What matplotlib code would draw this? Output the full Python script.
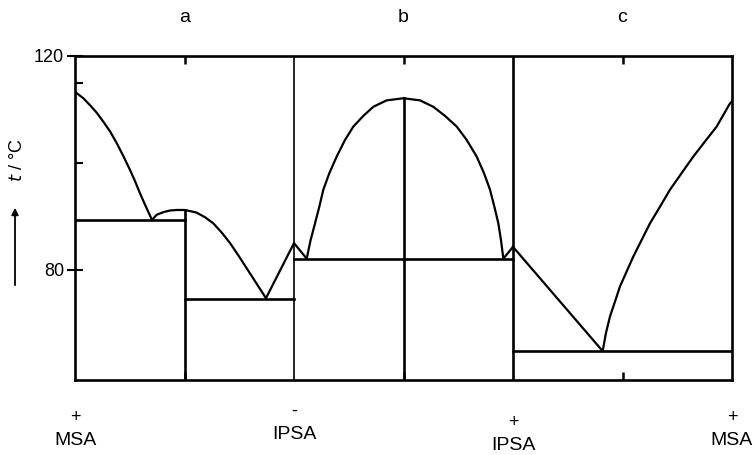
import matplotlib
matplotlib.use("Agg")
import matplotlib.pyplot as plt
from matplotlib.ticker import FixedLocator

plt.rcParams['font.family'] = ['Liberation Sans', 'DejaVu Sans']

# liquidus curves, section a (MSA side)
a1_x = [0.0, 0.076, 0.137, 0.198, 0.259, 0.320, 0.381, 0.441, 0.502, 0.548, 0.594, 0.648, 0.703]
a1_t = [113.3, 112.1, 110.8, 109.4, 107.7, 105.9, 103.7, 101.3, 98.7, 96.6, 94.3, 91.8, 89.35]
a2_x = [0.703, 0.746, 0.807, 0.868, 0.928, 1.0, 1.050, 1.111, 1.187, 1.263, 1.339, 1.416,
        1.492, 1.568, 1.659, 1.744, 2.0, 2.116]
a2_t = [89.35, 90.3, 90.8, 91.1, 91.2, 91.2, 91.0, 90.7, 89.85, 88.7, 87.0, 85.0,
        82.7, 80.3, 77.4, 74.7, 85.0, 82.1]
# section b (dome)
b_x = [2.116, 2.152, 2.192, 2.231, 2.268, 2.323, 2.390, 2.466, 2.542, 2.633, 2.724, 2.846, 3.0,
       3.151, 3.272, 3.379, 3.486, 3.577, 3.668, 3.735, 3.790, 3.830, 3.866, 3.890, 3.912, 4.0]
b_t = [82.1, 85.6, 88.7, 91.8, 95.0, 98.1, 101.2, 104.3, 106.8, 108.8, 110.5, 111.7, 112.1,
       111.7, 110.5, 108.8, 106.8, 104.3, 101.2, 98.1, 95.0, 91.8, 88.7, 85.6, 82.1, 84.3]
# section c
c_x = [4.0, 4.819, 4.849, 4.886, 4.932, 4.977, 5.038, 5.099, 5.175, 5.251, 5.342, 5.434,
       5.540, 5.647, 5.753, 5.860, 5.982, 6.0]
c_t = [84.3, 64.8, 68.2, 71.3, 74.1, 76.9, 79.7, 82.5, 85.6, 88.7, 91.8, 95.0,
       98.1, 101.2, 104.0, 106.8, 111.15, 111.5]

# eutectic (solidus) lines: (x start, x end, t)
eutectics = [(0, 1, 89.35), (1, 2, 74.6), (2, 4, 82.05), (4, 6, 64.8)]
# vertical compound lines: (x, t top)
compounds = [(1, 91.2), (3, 112.1)]

panel_labels = ['a', 'b', 'c']
panel_pos = [1, 3, 5]
comp_pos = [0, 2, 4, 6]
comp_sign = ['+', '-', '+', '+']
comp_name = ['MSA', 'IPSA', 'IPSA', 'MSA']
comp_dy = [0.0, 0.02, -0.015, 0.0]

t_min, t_max = 59.4, 120

fig = plt.figure(figsize=(7.55, 4.55), dpi=100)
ax = fig.add_axes([75 / 755, 75 / 455, 657 / 755, 324 / 455])

lw = 1.6
ax.plot(a1_x, a1_t, color='black', lw=lw, solid_joinstyle='round')
ax.plot(a2_x, a2_t, color='black', lw=lw, solid_joinstyle='round')
ax.plot(b_x, b_t, color='black', lw=lw, solid_joinstyle='round')
ax.plot(c_x, c_t, color='black', lw=lw, solid_joinstyle='round')

for x0, x1, t in eutectics:
    ax.plot([x0, x1], [t, t], color='black', lw=1.9)
for x, t in compounds:
    ax.plot([x, x], [t_min, t], color='black', lw=1.9)
ax.plot([2, 2], [t_min, t_max], color='black', lw=1.2)
ax.plot([4, 4], [t_min, t_max], color='black', lw=1.9)

ax.set_xlim(0, 6)
ax.set_ylim(t_min, t_max)

for s in ax.spines.values():
    s.set_linewidth(1.9)

ax.set_xticks(panel_pos)
ax.set_xticklabels([])
ax.tick_params(axis='x', top=True, bottom=True, direction='in', length=6, width=1.8)
ax.set_yticks([80, 120])
ax.set_yticklabels(['80', '120'], fontsize=13)
ax.yaxis.set_minor_locator(FixedLocator([100, 115]))
ax.tick_params(axis='y', which='major', direction='inout', length=12, width=1.5, pad=2)
ax.tick_params(axis='y', which='minor', direction='in', length=6, width=1.5)

trans = ax.get_xaxis_transform()
for x, lab in zip(panel_pos, panel_labels):
    ax.text(x, 1.12, lab, transform=trans, ha='center', va='center', fontsize=14)

for x, sg, nm, dy in zip(comp_pos, comp_sign, comp_name, comp_dy):
    ax.text(x, -0.117 + dy, sg, transform=trans, ha='center', va='center', fontsize=13)
    ax.text(x, -0.188 + dy, nm, transform=trans, ha='center', va='center', fontsize=14)

# axis label with arrow
fig.text(17 / 755, 1 - 160 / 455, r'$t$ / °C', rotation=90, ha='center', va='center', fontsize=13)
ax.annotate('', xy=(15 / 755, 1 - 205 / 455), xytext=(15 / 755, 1 - 288 / 455),
            xycoords='figure fraction', textcoords='figure fraction',
            arrowprops=dict(arrowstyle='-|>', color='black', lw=1.3, mutation_scale=10))

fig.savefig('out.png', dpi=100)
